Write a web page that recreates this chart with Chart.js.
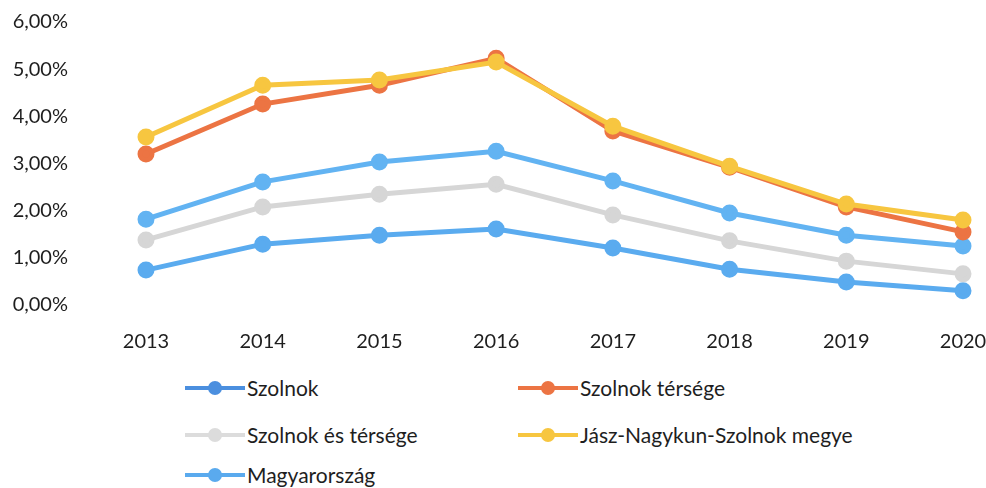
<!DOCTYPE html>
<html>
<head>
<meta charset="utf-8">
<script src="https://cdn.jsdelivr.net/npm/chart.js@4"></script>
<style>
  body { margin: 0; background: #fff; font-family: Lato, "Open Sans", sans-serif; }
  #wrap { position: relative; width: 986px; height: 488px; }
  #lineChart { position: absolute; left: 0; top: 0; }
  .leg { position: absolute; display: flex; align-items: center; font-size: 21px; line-height: 24px; color: #1e1e1e; white-space: nowrap; }
  .leg .mk { position: relative; width: 60px; height: 14px; margin-right: 2px; }
  .leg .mk i { position: absolute; left: 0; right: 0; top: 5px; height: 4px; }
  .leg .mk b { position: absolute; left: 23px; top: 0; width: 14px; height: 14px; border-radius: 50%; }
</style>
</head>
<body>
<div id="wrap">
  <canvas id="lineChart" width="986" height="362"></canvas>
  <div id="legend"></div>
</div>
<script>
const years = ["2013", "2014", "2015", "2016", "2017", "2018", "2019", "2020"];
const yTicks = [0, 1, 2, 3, 4, 5, 6];

const szolnok = [0.74, 1.29, 1.48, 1.61, 1.21, 0.76, 0.49, 0.30];
const szolnokTersege = [3.20, 4.26, 4.66, 5.23, 3.69, 2.92, 2.08, 1.55];
const szolnokEsTersege = [1.38, 2.08, 2.35, 2.56, 1.91, 1.36, 0.93, 0.66];
const megye = [3.56, 4.66, 4.77, 5.15, 3.79, 2.94, 2.14, 1.80];
const magyarorszag = [1.82, 2.61, 3.03, 3.26, 2.63, 1.95, 1.48, 1.25];

const series = [
  { label: "Szolnok", data: szolnok, color: "#5aabef", legColor: "#4b8fdf" },
  { label: "Szolnok térsége", data: szolnokTersege, color: "#ec7443", legColor: "#ec7443" },
  { label: "Szolnok és térsége", data: szolnokEsTersege, color: "#d6d6d6", legColor: "#dcdcdc" },
  { label: "Jász-Nagykun-Szolnok megye", data: megye, color: "#f7c640", legColor: "#f7c640" },
  { label: "Magyarország", data: magyarorszag, color: "#62b3f2", legColor: "#5aaaee" },
];

// draw order: back to front like the reference
const drawOrder = [3, 1, 2, 4, 0];

const ctx = document.getElementById("lineChart").getContext("2d");
new Chart(ctx, {
  type: "line",
  data: {
    labels: years,
    datasets: series.map((s, i) => ({
      label: s.label,
      data: s.data,
      borderColor: s.color,
      backgroundColor: s.color,
      borderWidth: 5,
      pointRadius: 6,
      pointHoverRadius: 6,
      tension: 0,
      order: drawOrder.indexOf(i),
    })),
  },
  options: {
    responsive: false,
    animation: false,
    layout: { padding: { top: 22, right: 23, bottom: 9, left: 0 } },
    plugins: { legend: { display: false }, tooltip: { enabled: false } },
    scales: {
      x: {
        grid: { display: false, drawTicks: false },
        border: { display: false },
        ticks: { color: "#1e1e1e", font: { family: "Lato", size: 20 }, padding: 25, maxRotation: 0 },
        afterFit: (axis) => {
          axis.height = 48;
          axis.paddingLeft = 0;
          axis.paddingRight = 0;
        },
      },
      y: {
        min: 0,
        max: 6,
        grid: { display: false, drawTicks: false },
        border: { display: false },
        afterFit: (axis) => {
          axis.width = 146;
          axis.paddingTop = 0;
          axis.paddingBottom = 0;
        },
        afterBuildTicks: (axis) => { axis.ticks = yTicks.map((v) => ({ value: v })); },
        ticks: {
          color: "#1e1e1e",
          font: { family: "Lato", size: 20 },
          padding: 78,
          callback: (v) => v.toFixed(2).replace(".", ",") + "%",
        },
      },
    },
  },
});

// two-column legend below the plot
const legendPos = [
  { left: 185, top: 376 },
  { left: 518, top: 376 },
  { left: 185, top: 423 },
  { left: 518, top: 423 },
  { left: 185, top: 463 },
];
const legend = document.getElementById("legend");
series.forEach((s, i) => {
  const item = document.createElement("div");
  item.className = "leg";
  item.style.left = legendPos[i].left + "px";
  item.style.top = legendPos[i].top + "px";
  item.innerHTML =
    '<span class="mk"><i style="background:' + s.legColor + '"></i><b style="background:' + s.legColor + '"></b></span>' +
    "<span>" + s.label + "</span>";
  legend.appendChild(item);
});
</script>
</body>
</html>
